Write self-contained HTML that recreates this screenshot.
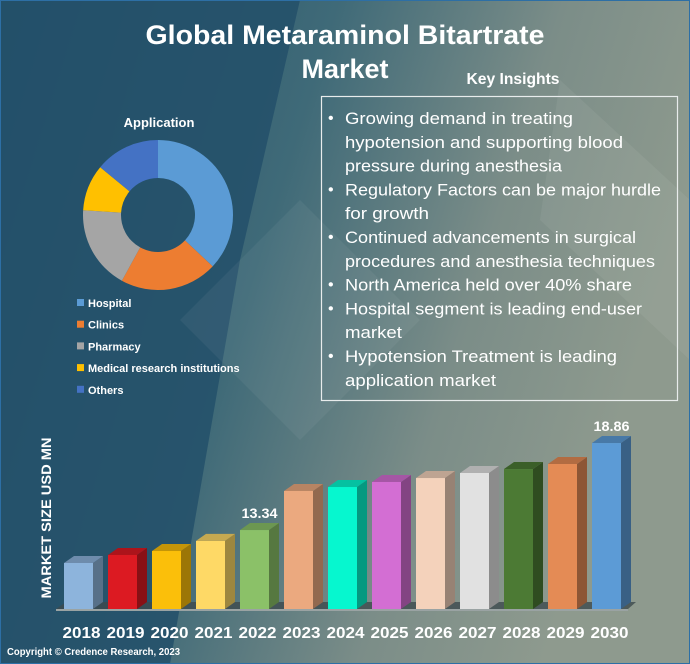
<!DOCTYPE html>
<html><head><meta charset="utf-8"><style>
html,body{margin:0;padding:0;width:690px;height:664px;overflow:hidden;background:#2a5468}
svg{display:block}
text{font-family:"Liberation Sans",sans-serif;fill:#fff}
</style></head><body>
<svg id="s" width="690" height="664" viewBox="0 0 690 664">
<defs>
<linearGradient id="bg" x1="0" y1="0" x2="1" y2="0.3">
<stop offset="0" stop-color="#234f68"/><stop offset="0.45" stop-color="#3f6a78"/><stop offset="0.75" stop-color="#7b8d88"/><stop offset="1" stop-color="#8e9a8e"/>
</linearGradient>
</defs>
<rect width="690" height="664" fill="url(#bg)"/>
<polygon points="0,0 300,0 240,260 170,664 0,664" fill="#23506a" opacity="0.85"/>
<polygon points="300,200 420,320 300,440 180,320" fill="#ffffff" opacity="0.05"/>
<polygon points="560,80 690,200 690,360 540,220" fill="#ffffff" opacity="0.06"/>
<rect x="0" y="0" width="690" height="664" fill="none" stroke="#2d6fa5" stroke-width="2"/>
<text x="345" y="44" text-anchor="middle" font-size="27" font-weight="bold" textLength="399" lengthAdjust="spacingAndGlyphs">Global Metaraminol Bitartrate</text>
<text x="345" y="78" text-anchor="middle" font-size="27" font-weight="bold">Market</text>
<text x="513" y="84" text-anchor="middle" font-size="16" font-weight="bold" textLength="93" lengthAdjust="spacingAndGlyphs">Key Insights</text>
<rect x="321.5" y="96.5" width="356" height="304" fill="none" stroke="#e8ecec" stroke-width="1.2"/>
<g id="ins"></g>
<text x="159" y="127" text-anchor="middle" font-size="13" font-weight="bold">Application</text>
<g id="donut"></g>
<g id="legend"></g>
<text transform="translate(51,518) rotate(-90)" text-anchor="middle" font-size="14" font-weight="bold" textLength="161" lengthAdjust="spacingAndGlyphs">MARKET SIZE USD MN</text>
<polygon points="66,602 636,602 628,609 56,609" fill="#3d4a4e" opacity="0.8"/>
<rect x="56" y="609" width="572" height="2" fill="#9aa3a3"/>
<g id="bars"></g>
<text x="7" y="655" font-size="10" font-weight="bold" textLength="173" lengthAdjust="spacingAndGlyphs">Copyright © Credence Research, 2023</text>
</svg>
<script>
const NS="http://www.w3.org/2000/svg";
const years=["2018","2019","2020","2021","2022","2023","2024","2025","2026","2027","2028","2029","2030"];
const values=[11.25,11.76,12.01,12.65,13.34,15.82,16.07,16.39,16.64,16.96,17.21,17.53,18.86];
const valueLabels=["","","","","13.34","","","","","","","","18.86"];
const barColors=["#8db4dc","#dc1a22","#fbbf0a","#fed966","#8bc168","#eba97f","#06f7cf","#d36ed3","#f4d2bb","#e1e1e1","#4c7a34","#e48b55","#5c9bd6"];
const segNames=["Hospital","Clinics","Pharmacy","Medical research institutions","Others"];
const segShares=[37,21,18,10,14];
const segColors=["#5b9bd5","#ed7d31","#a5a5a5","#ffc000","#4472c4"];
const insights=[["Growing demand in treating","hypotension and supporting blood","pressure during anesthesia"],["Regulatory Factors can be major hurdle","for growth"],["Continued advancements in surgical","procedures and anesthesia techniques"],["North America held over 40% share"],["Hospital segment is leading end-user","market"],["Hypotension Treatment is leading","application market"]];
const lineWidths=[228,278,217,316,84,291,310,287,297,57,272,151];
function mk(t,a,p){const e=document.createElementNS(NS,t);for(const k in a)e.setAttribute(k,a[k]);p.appendChild(e);return e;}
function shade(c,f){const n=parseInt(c.slice(1),16);let r=n>>16,g=(n>>8)&255,b=n&255;return `rgb(${Math.round(r*f)},${Math.round(g*f)},${Math.round(b*f)})`;}
// bars
const base=609,vmin=8.33,pxPer=15.76,x0=64,step=44,bw=29,dx=10,dy=7;
function yS(v){return base-(v-vmin)*pxPer;}
function xS(i){return x0+i*step;}
const bg=document.getElementById('bars');
years.forEach((yr,i)=>{
 const x=xS(i),y=yS(values[i]),c=barColors[i];
 const g=mk('g',{},bg);
 
 
 mk('polygon',{points:`${x+bw},${y} ${x+bw+dx},${y-dy} ${x+bw+dx},${base-dy} ${x+bw},${base}`,fill:shade(c,0.62)},g);
 mk('polygon',{points:`${x},${y} ${x+dx},${y-dy} ${x+bw+dx},${y-dy} ${x+bw},${y}`,fill:shade(c,0.78)},g);
 mk('rect',{x:x,y:y,width:bw,height:base-y,fill:c},g);
 const t=mk('text',{x:x+bw/2+3,y:638,'text-anchor':'middle','font-size':16,'font-weight':'bold',textLength:38,lengthAdjust:'spacingAndGlyphs'},bg);
 t.textContent=yr;
 
 
 if(valueLabels[i]){const v=mk('text',{x:x+bw/2+5,y:y-12,'text-anchor':'middle','font-size':14,'font-weight':'bold',textLength:36,lengthAdjust:'spacingAndGlyphs'},bg);v.textContent=valueLabels[i];
 
 }
});
// donut
const cx=158,cy=215,R=75,r=37,dg=document.getElementById('donut');
const tot=segShares.reduce((a,b)=>a+b,0);let a0=0;
segShares.forEach((s,i)=>{
 const a1=a0+s/tot*2*Math.PI;
 const p=(a,rad)=>[cx+rad*Math.sin(a),cy-rad*Math.cos(a)];
 const [x1,y1]=p(a0,R),[x2,y2]=p(a1,R),[x3,y3]=p(a1,r),[x4,y4]=p(a0,r);const lg=(a1-a0)>Math.PI?1:0;
 const e=mk('path',{d:`M${x1},${y1}A${R},${R} 0 ${lg} 1 ${x2},${y2}L${x3},${y3}A${r},${r} 0 ${lg} 0 ${x4},${y4}Z`,fill:segColors[i]},dg);
 
 
 a0=a1;
});
const lg=document.getElementById('legend');
segNames.forEach((n,i)=>{
 const y=303+i*21.7;
 const sq=mk('rect',{x:77,y:y-4,width:7,height:7,fill:segColors[i]},lg);
 
 
 const t=mk('text',{x:88,y:y+4,'font-size':11,'font-weight':'bold'},lg);t.textContent=n;
 
 
});
// insights
const ig=document.getElementById('ins');let line=0;
insights.forEach(item=>{
 const b=mk('text',{x:328,y:123+line*23.8,'font-size':16},ig);b.textContent='•';
 
 
 item.forEach(l=>{
  const t=mk('text',{x:345,y:124+line*23.8,'font-size':17,textLength:lineWidths[line],lengthAdjust:'spacingAndGlyphs'},ig);t.textContent=l;
  
  
  line++;
 });
});
</script>
</body></html>
